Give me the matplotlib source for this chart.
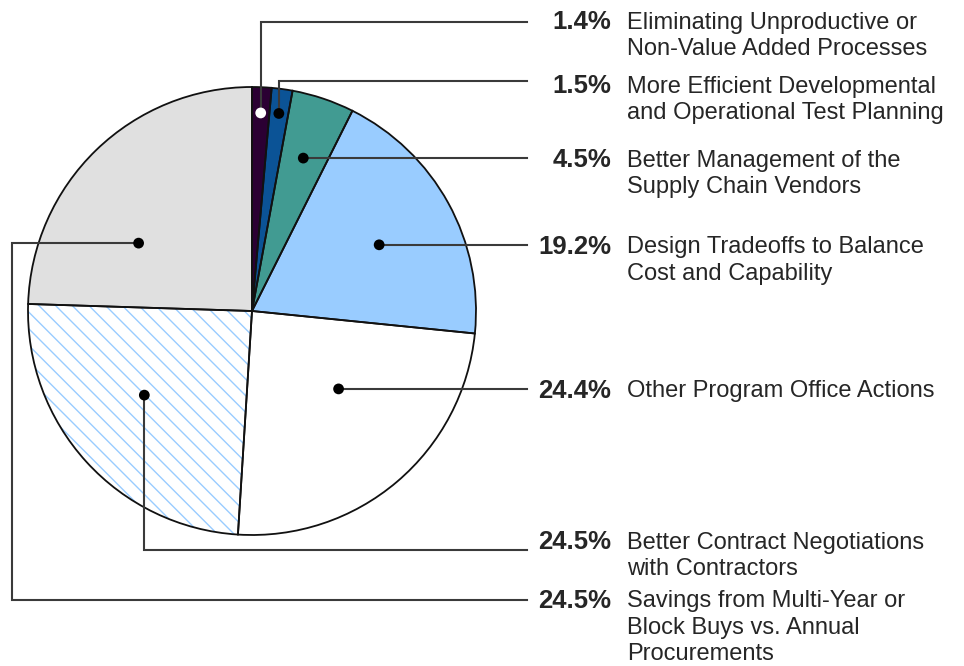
import matplotlib
matplotlib.use("Agg")
import numpy as np
from matplotlib import pyplot as plt

plt.rcParams['font.family'] = ['Liberation Sans', 'DejaVu Sans']
plt.rcParams['hatch.linewidth'] = 1.0

shares = [1.4, 1.5, 4.5, 19.2, 24.4, 24.5, 24.5]
pct_labels = ["1.4%", "1.5%", "4.5%", "19.2%", "24.4%", "24.5%", "24.5%"]
categories = [
    "Eliminating Unproductive or\nNon-Value Added Processes",
    "More Efficient Developmental\nand Operational Test Planning",
    "Better Management of the\nSupply Chain Vendors",
    "Design Tradeoffs to Balance\nCost and Capability",
    "Other Program Office Actions",
    "Better Contract Negotiations\nwith Contractors",
    "Savings from Multi-Year or\nBlock Buys vs. Annual\nProcurements",
]
colors = ["#2b0033", "#0b5396", "#419b92", "#99ccff", "#ffffff", "#ffffff", "#e0e0e0"]

W, H = 964, 666
fig = plt.figure(figsize=(W / 100, H / 100), dpi=100)
ax = fig.add_axes([0, 0, 1, 1])

cx, cy, R = 252, H - 311, 224
wedges, _ = ax.pie(shares, colors=colors, startangle=90, counterclock=False,
                   center=(cx, cy), radius=R, frame=True,
                   wedgeprops=dict(linewidth=0))
wedges[5].set_hatch("\\\\")
wedges[5].set_edgecolor("#99ccff")
ax.pie(shares, colors=["none"] * len(shares), startangle=90, counterclock=False,
       center=(cx, cy), radius=R, frame=True,
       wedgeprops=dict(linewidth=1.3, edgecolor="#111111"))

ax.set_xlim(0, W)
ax.set_ylim(0, H)
ax.set_aspect("equal")
ax.axis("off")

# dot placement: angle offset from wedge middle (deg), fraction of radius
dot_off = [0, 0, 0, -1.3, 7.7, -4.3, 15]
dot_rad = [0.885, 0.89, 0.72, 0.64, 0.52, 0.61, 0.59]
dot_fc = ["white", "black", "black", "black", "black", "black", "black"]

line_end = 527
pct_x, txt_x = 611, 627
line_gap = 26.5
lc = "#3a3a3a"
tc = "#262626"
# leader routes: 'up' to y, 'h' straight, 'down' to y, 'left' to x then down
routes = [("up", H - 22), ("up", H - 81), ("h", None), ("h", None), ("h", None),
          ("down", H - 550), ("left", 12, H - 600)]
text_shift = [2, -3, 0, 0, 0, 10, 1]

for i, w in enumerate(wedges):
    mid = 0.5 * (w.theta1 + w.theta2) + dot_off[i]
    dx = cx + dot_rad[i] * R * np.cos(np.radians(mid))
    dy = cy + dot_rad[i] * R * np.sin(np.radians(mid))
    r = routes[i]
    if r[0] == "up" or r[0] == "down":
        xs, ys = [dx, dx, line_end], [dy, r[1], r[1]]
        ty = r[1]
    elif r[0] == "h":
        xs, ys = [dx, line_end], [dy, dy]
        ty = dy
    else:
        xs, ys = [dx, r[1], r[1], line_end], [dy, dy, r[2], r[2]]
        ty = r[2]
    ty += text_shift[i]
    ax.plot(xs, ys, color=lc, lw=1.5, solid_joinstyle="miter", zorder=3)
    ax.scatter([dx], [dy], s=60, color=dot_fc[i], edgecolors="none", zorder=4)
    ax.text(pct_x, ty - 9, pct_labels[i], ha="right", va="baseline", fontsize=18.5,
            fontweight="bold", color=tc)
    for k, line in enumerate(categories[i].split("\n")):
        ax.text(txt_x, ty - 8.5 - k * line_gap, line, ha="left", va="baseline",
                fontsize=17, color=tc)

fig.savefig("out.png", dpi=100)
